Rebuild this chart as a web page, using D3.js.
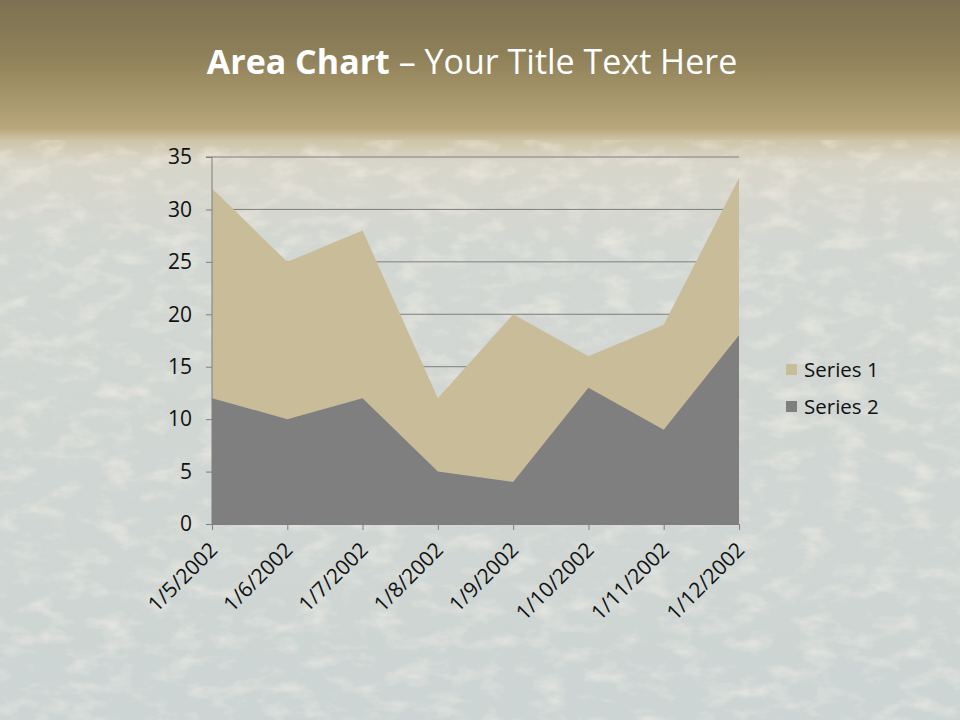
<!DOCTYPE html>
<html><head><meta charset="utf-8">
<script src="https://cdn.jsdelivr.net/npm/d3@7"></script>
<style>html,body{margin:0;padding:0;overflow:hidden;}svg{display:block;}</style>
</head><body>
<svg id="chart" width="960" height="720"></svg>
<script>
const categories = ["1/5/2002","1/6/2002","1/7/2002","1/8/2002","1/9/2002","1/10/2002","1/11/2002","1/12/2002"];
const series1 = [32, 25, 28, 12, 20, 16, 19, 33];
const series2 = [12, 10, 12, 5, 4, 13, 9, 18];
const seriesNames = ["Series 1", "Series 2"];
const yTicks = [0, 5, 10, 15, 20, 25, 30, 35];

const svg = d3.select("#chart");
const W = 960, H = 720;
const defs = svg.append("defs");

const bg = defs.append("linearGradient").attr("id","bg").attr("x1",0).attr("y1",0).attr("x2",0).attr("y2",1);
[[0,"#7c7152"],[0.08,"#8f8159"],[0.165,"#b3a276"],[0.178,"#b8a77b"],[0.195,"#cfc4a8"],[0.225,"#d8d6ca"],[0.35,"#d2d7d3"],[0.7,"#d0d6d3"],[1,"#ccd5d4"]]
  .forEach(([o,c])=>bg.append("stop").attr("offset",o).attr("stop-color",c));
const f = defs.append("filter").attr("id","noise").attr("x",0).attr("y",0).attr("width","100%").attr("height","100%");
f.append("feTurbulence").attr("type","fractalNoise").attr("baseFrequency","0.03 0.06").attr("numOctaves",4).attr("seed",7);
f.append("feColorMatrix").attr("type","matrix").attr("values","0 0 0 0 0.97  0 0 0 0 0.91  0 0 0 0 0.82  0 0 0 2.2 -1.05");

svg.append("rect").attr("width",W).attr("height",H).attr("fill","url(#bg)");
svg.append("rect").attr("y",140).attr("width",W).attr("height",H-140).attr("filter","url(#noise)").attr("opacity",0.5);

const title = svg.append("text").attr("x",472).attr("y",74).attr("text-anchor","middle")
  .attr("fill","#ffffff").style("font-family","'Open Sans', sans-serif").style("font-size","34px");
title.append("tspan").style("font-weight","bold").text("Area Chart");
title.append("tspan").text(" \u2013 Your Title Text Here");

const m = {l:212, r:739, t:157, b:524};
const x = d3.scalePoint().domain(categories).range([m.l, m.r]);
const y = d3.scaleLinear().domain([0,35]).range([m.b, m.t]);

const g = svg.append("g");
g.selectAll(".grid").data(yTicks.filter(d=>d>0)).join("line")
  .attr("x1",m.l).attr("x2",m.r).attr("y1",d=>y(d)).attr("y2",d=>y(d))
  .attr("stroke","#7f7f7f").attr("stroke-width",1);

const colors = ["#c9bc99","#7f7f7f"];
const data = [series1, series2];
const area = d3.area().x((d,i)=>x(categories[i])).y0(y(0)).y1(d=>y(d));
data.forEach((s,k)=>{
  g.append("path").datum(s).attr("d",area).attr("fill",colors[k]);
});

const fontTick = "'Open Sans', sans-serif";
const yAxis = d3.axisLeft(y).tickValues(yTicks).tickSize(6).tickPadding(14);
const ya = g.append("g").attr("transform",`translate(${m.l},0)`).call(yAxis);
ya.select(".domain").attr("stroke","#7f7f7f").attr("d",`M-6,${m.t}H0V${m.b}`);
ya.selectAll(".tick line").attr("stroke","#7f7f7f");
ya.selectAll("text").attr("fill","#111").style("font-family",fontTick).style("font-size","21px");

const xAxis = d3.axisBottom(x).tickSize(6).tickSizeOuter(0);
const xa = g.append("g").attr("transform",`translate(0,${m.b})`).call(xAxis);
xa.select(".domain").attr("stroke","#7f7f7f");
xa.selectAll(".tick line").attr("stroke","#7f7f7f");
xa.selectAll("text").attr("fill","#111").style("font-family",fontTick).style("font-size","21px")
  .attr("text-anchor","end").attr("transform","translate(1,22) rotate(-45)").attr("dy","0.35em").attr("y",0);

const lg = svg.append("g");
seriesNames.forEach((n,i)=>{
  const yy = 370 + i*37;
  lg.append("rect").attr("x",786).attr("y",yy-6).attr("width",11).attr("height",11).attr("fill",colors[i]);
  lg.append("text").attr("x",804).attr("y",yy).attr("dy","0.35em").attr("fill","#111")
    .style("font-family",fontTick).style("font-size","20.5px").text(n);
});
</script>
</body></html>
